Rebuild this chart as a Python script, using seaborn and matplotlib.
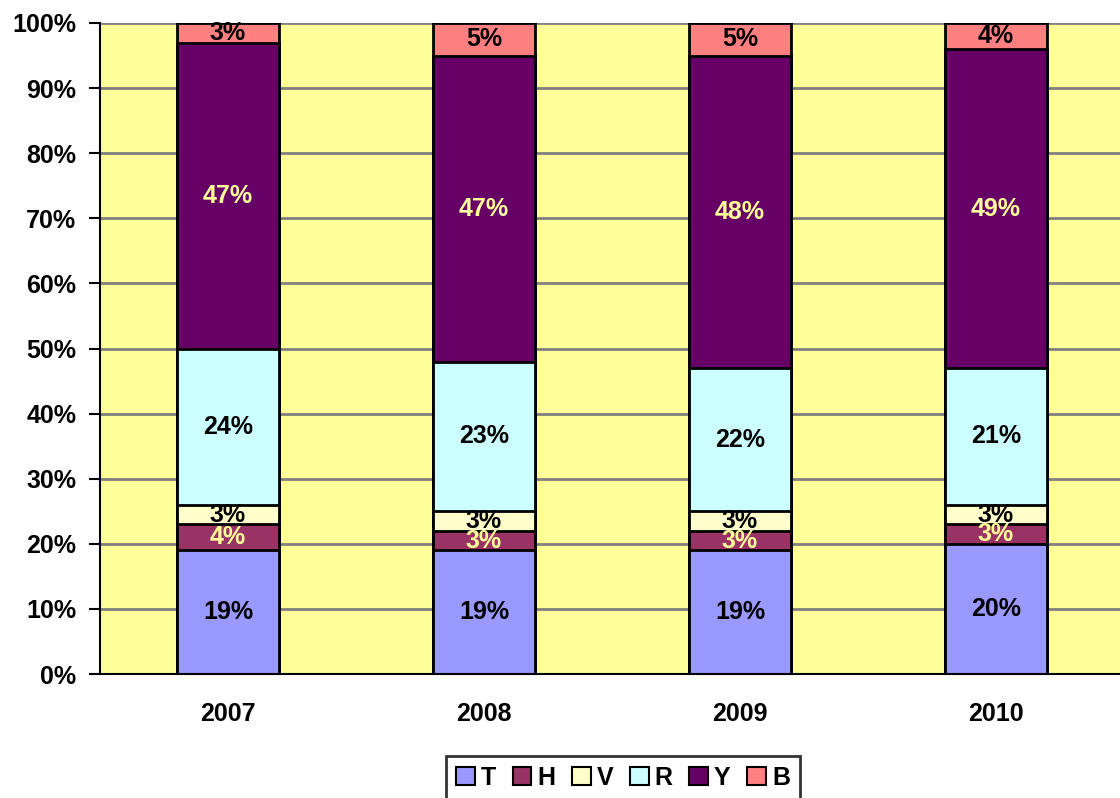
import matplotlib
matplotlib.use("Agg")
import matplotlib.pyplot as plt
import seaborn as sns
import pandas as pd
import numpy as np
from matplotlib.patches import Patch

years = ["2007", "2008", "2009", "2010"]
series = ["T", "H", "V", "R", "Y", "B"]
T = [19, 19, 19, 20]
H = [4, 3, 3, 3]
V = [3, 3, 3, 3]
R = [24, 23, 22, 21]
Y = [47, 47, 48, 49]
B = [3, 5, 5, 4]
values = [T, H, V, R, Y, B]
colors = ["#9999FF", "#993366", "#FFFFCC", "#CCFFFF", "#660066", "#FF8080"]
label_colors = ["black", "#FFFF99", "black", "black", "#FFFF99", "black"]
ytick_labels = [f"{v}%" for v in range(0, 101, 10)]

sns.set_theme(style="white")
plt.rcParams["font.family"] = ["Liberation Sans", "DejaVu Sans"]
plt.rcParams["font.weight"] = "bold"
plt.rcParams["text.color"] = "black"
plt.rcParams["xtick.color"] = "black"
plt.rcParams["ytick.color"] = "black"

FS = 18

fig = plt.figure(figsize=(11.2, 7.98), dpi=100)
ax = fig.add_axes([100/1120, 1 - 674/798, 1024/1120, 651/798])
ax.set_facecolor("#FFFF99")

vals = np.array(values, dtype=float)
cum = np.cumsum(vals, axis=0)
bottoms = cum - vals

# draw cumulative bars from the top layer down
for i in range(len(series) - 1, -1, -1):
    df = pd.DataFrame({"year": years, "val": cum[i]})
    sns.barplot(data=df, x="year", y="val", color=colors[i], saturation=1,
                width=0.4, edgecolor="black", linewidth=2, ax=ax, zorder=3)

for i in range(len(series)):
    for j in range(len(years)):
        ax.text(j, bottoms[i, j] + vals[i, j] / 2, f"{int(vals[i, j])}%",
                ha="center", va="center", fontsize=FS, fontweight="bold",
                color=label_colors[i], zorder=5)

ax.set_xlim(-0.5, 3.5)
ax.set_ylim(0, 100)
ax.set_yticks(range(0, 101, 10))
ax.set_yticklabels(ytick_labels, fontsize=FS, fontweight="bold", color="black")
ax.set_xticks(range(len(years)))
ax.set_xticklabels(years, fontsize=FS, fontweight="bold", color="black")
ax.set_xticks([-0.5, 0.5, 1.5, 2.5, 3.5], minor=True)
ax.tick_params(axis="x", which="major", length=0, pad=20)
ax.tick_params(axis="x", which="minor", length=8, width=1.5, color="black", direction="out")
ax.tick_params(axis="y", length=8, width=1.5, color="black", direction="out", pad=9, left=True)
ax.set_xlabel("")
ax.set_ylabel("")
ax.grid(axis="y", color="#808080", linewidth=2, zorder=0)
ax.set_axisbelow(True)
for s in ["top", "right"]:
    ax.spines[s].set_visible(False)
for s in ["left", "bottom"]:
    ax.spines[s].set_color("black")
    ax.spines[s].set_linewidth(1.5)
    ax.spines[s].set_zorder(6)

handles = [Patch(facecolor=c, edgecolor="black", linewidth=1.5) for c in colors]
leg = fig.legend(handles, series, loc="upper center", bbox_to_anchor=(623/1120, 1 - 756/798),
                 ncol=6, frameon=True, fancybox=False, edgecolor="black",
                 handlelength=0.75, handleheight=0.75, handletextpad=0.25,
                 columnspacing=0.65, borderpad=0.4, borderaxespad=0,
                 prop={"weight": "bold", "size": FS})
leg.get_frame().set_linewidth(2)
for t in leg.get_texts():
    t.set_color("black")

fig.savefig("out.png", dpi=100)
